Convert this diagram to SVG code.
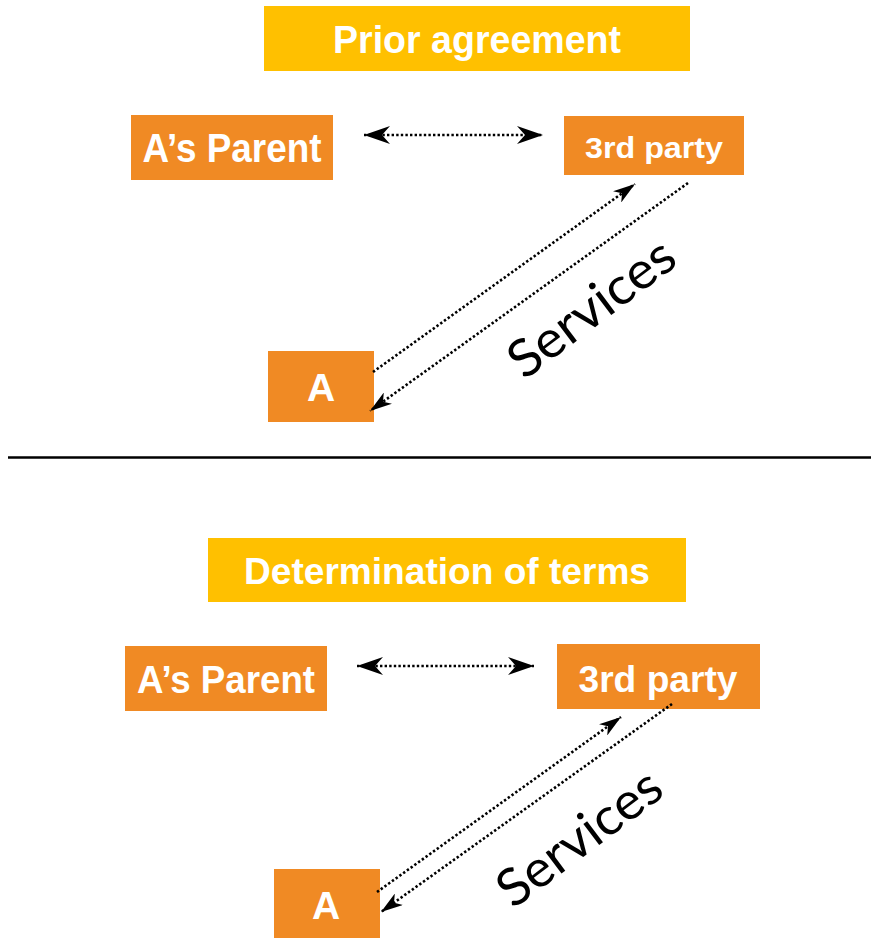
<svg xmlns="http://www.w3.org/2000/svg" width="871" height="938" viewBox="0 0 871 938">
  <style>
    .title { fill: #FFC000; }
    .party { fill: #F08A24; }
    .lbl { fill: #FFFFFF; font-family: "Liberation Sans", Arial, sans-serif; font-weight: bold; text-anchor: middle; }
    .flow { fill: none; stroke: #000000; stroke-width: 2.6; stroke-dasharray: 2.4 2.2; }
    .svc { fill: #000000; font-family: "Lato", "Liberation Sans", sans-serif; font-weight: normal; font-size: 52px; text-anchor: middle; }
  </style>
  <defs>
    <marker id="headWide" markerUnits="userSpaceOnUse" markerWidth="26" markerHeight="18" viewBox="0 0 26 18" refX="26" refY="9" orient="auto-start-reverse">
      <path d="M26,9 L0,0 L8,9 L0,18 Z" fill="#000000"/>
    </marker>
    <marker id="head" markerUnits="userSpaceOnUse" markerWidth="22" markerHeight="14" viewBox="0 0 22 14" refX="22" refY="7" orient="auto">
      <path d="M22,7 L0,0 L6,7 L0,14 Z" fill="#000000"/>
    </marker>
  </defs>
  <rect width="871" height="938" fill="#FFFFFF"/>

  <!-- upper panel -->
  <g id="prior-agreement">
    <rect class="title" x="264" y="6" width="426" height="65"/>
    <text class="lbl" x="477" y="53" font-size="38" textLength="288" lengthAdjust="spacingAndGlyphs">Prior agreement</text>
  </g>
  <g id="parent-1">
    <rect class="party" x="131" y="115" width="202" height="65"/>
    <text class="lbl" x="232" y="162" font-size="40" textLength="179" lengthAdjust="spacingAndGlyphs">A’s Parent</text>
  </g>
  <g id="third-party-1">
    <rect class="party" x="564" y="116" width="180" height="59"/>
    <text class="lbl" x="654" y="158" font-size="30" textLength="138" lengthAdjust="spacingAndGlyphs">3rd party</text>
  </g>
  <g id="a-1">
    <rect class="party" x="268" y="351" width="106" height="71"/>
    <text class="lbl" x="321" y="401" font-size="39">A</text>
  </g>

  <!-- divider -->
  <line x1="8" y1="457.5" x2="871" y2="457.5" stroke="#000000" stroke-width="2.5"/>

  <!-- lower panel -->
  <g id="determination-of-terms">
    <rect class="title" x="208" y="538" width="478" height="64"/>
    <text class="lbl" x="447" y="584" font-size="36" textLength="406" lengthAdjust="spacingAndGlyphs">Determination of terms</text>
  </g>
  <g id="parent-2">
    <rect class="party" x="125" y="646" width="202" height="65"/>
    <text class="lbl" x="226" y="693" font-size="39" textLength="178" lengthAdjust="spacingAndGlyphs">A’s Parent</text>
  </g>
  <g id="third-party-2">
    <rect class="party" x="557" y="644" width="203" height="65"/>
    <text class="lbl" x="658" y="692" font-size="37" textLength="159" lengthAdjust="spacingAndGlyphs">3rd party</text>
  </g>
  <g id="a-2">
    <rect class="party" x="274" y="869" width="106" height="69"/>
    <text class="lbl" x="326" y="919" font-size="39">A</text>
  </g>

  <!-- connectors -->
  <g id="connectors">
    <path class="flow" d="M364,135 L543,135" marker-start="url(#headWide)" marker-end="url(#headWide)"/>
    <path class="flow" d="M373,372 L635,184" marker-end="url(#head)"/>
    <path class="flow" d="M688,183 L370,411" marker-end="url(#head)"/>

    <path class="flow" d="M357,666 L534,666" marker-start="url(#headWide)" marker-end="url(#headWide)"/>
    <path class="flow" d="M377,892 L621,717" marker-end="url(#head)"/>
    <path class="flow" d="M672,704 L381,912" marker-end="url(#head)"/>
  </g>

  <!-- connector labels -->
  <g id="services-labels">
    <text class="svc" transform="translate(602,322) rotate(-37)" textLength="195" lengthAdjust="spacingAndGlyphs">Services</text>
    <text class="svc" transform="translate(590,852) rotate(-37)" textLength="192" lengthAdjust="spacingAndGlyphs">Services</text>
  </g>
</svg>
